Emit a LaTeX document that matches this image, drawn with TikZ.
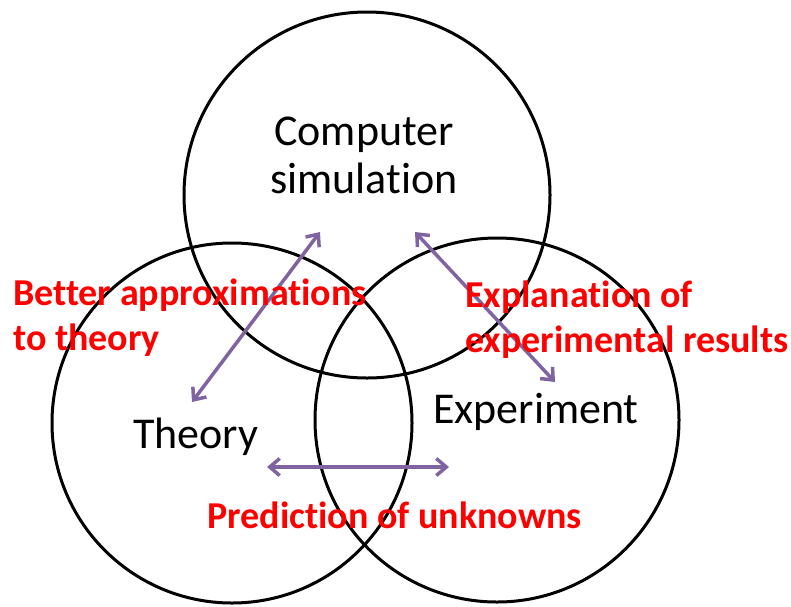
\documentclass[tikz,border=0pt]{standalone}
\usepackage{fontspec}
\setmainfont[Ligatures=NoCommon]{Carlito}
\usetikzlibrary{calc, arrows.meta}
\definecolor{linkpurple}{RGB}{128,100,162}

\begin{document}
\begin{tikzpicture}[x=1pt, y=-1pt,
    ring/.style={draw=black, line width=3pt},
    fieldtext/.style={inner sep=0pt, font=\fontsize{44}{48}\selectfont},
    redtext/.style={inner sep=0pt, anchor=base west, align=left, text=red,
        font=\bfseries\fontsize{38}{45}\selectfont},
    linkarrow/.style={draw=linkpurple, line width=3.5pt,
        {Straight Barb[length=10pt,width=17pt]}-{Straight Barb[length=10pt,width=17pt]}}]
    \useasboundingbox (0,0) rectangle (791,606);
    % centres of the three fields
    \coordinate (S) at (367,195);
    \coordinate (T) at (232,423);
    \coordinate (E) at (497,420);
    \draw[ring] (S) circle[radius=183pt];
    \draw[ring] (T) circle[radius=180pt];
    \draw[ring] (E) circle[radius=182pt];
    % field names
    \node[fieldtext, anchor=base, align=center] (sim) at (364,193) {Computer\\simulation};
    \node[fieldtext, anchor=base west] (theory) at (133,448) {Theory};
    \node[fieldtext, anchor=base west] (exper) at (433,423) {Experiment};
    % arrow ends
    \coordinate (A1) at (320,232);
    \coordinate (A2) at (192,402);
    \coordinate (B1) at (415,232);
    \coordinate (B2) at (555,382);
    \coordinate (C1) at (267,467);
    \coordinate (C2) at (449,467);
    \draw[linkarrow] (A1) -- (A2);
    \draw[linkarrow] (B1) -- (B2);
    \draw[linkarrow] (C1) -- (C2);
    % red notes
    \node[redtext] (approx) at (13,350) {Better approximations\\to theory};
    \node[redtext] (explain) at (465,352) {Explanation of\\experimental results};
    \node[redtext] (predict) at (207,528) {Prediction of unknowns};
\end{tikzpicture}
\end{document}
